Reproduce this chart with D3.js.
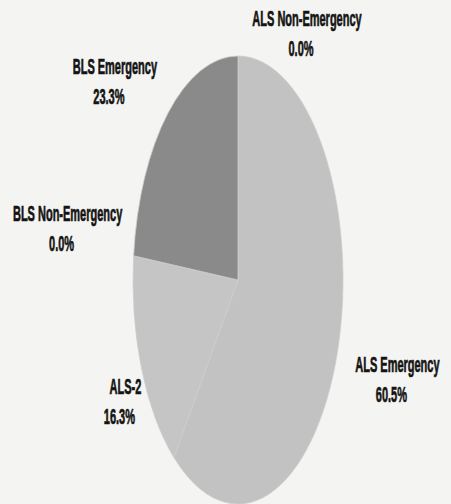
<!DOCTYPE html>
<html>
<head>
<meta charset="utf-8">
<script src="https://cdn.jsdelivr.net/npm/d3@7"></script>
<style>
  html, body { margin: 0; padding: 0; background: #f4f4f2; }
  svg { display: block; }
  .lbl { font-family: "Liberation Sans", Arial, sans-serif; font-weight: bold; font-size: 22px;
         fill: #141414; stroke: #141414; stroke-width: 0.7px; }
</style>
</head>
<body>
<div id="chart"></div>
<script>
// Slice data, clockwise from 12 o'clock
var categories = ["ALS Non-Emergency", "ALS Emergency", "ALS-2", "BLS Non-Emergency", "BLS Emergency"];
var shares = [0.0, 60.5, 16.3, 0.0, 23.3];
var shareLabels = ["0.0%", "60.5%", "16.3%", "0.0%", "23.3%"];

// Style / layout (kept apart from data)
var sliceColors = ["#c2c2c2", "#c2c2c2", "#c5c5c5", "#8a8a8a", "#8a8a8a"];
// label baseline offsets from the slice's point on the rim
var labelNudge = [[69, -30], [60, 20], [-16, 26], [-66, -35], [-53, -39]];

var W = 451, H = 504,
    cx = 238, cy = 280,
    R = 224,            // vertical radius
    squash = 105 / 224; // the scan is compressed sideways

var svg = d3.select("#chart").append("svg")
    .attr("width", W)
    .attr("height", H);

var rows = categories.map(function(c, i) {
  return {name: c, value: shares[i], label: shareLabels[i], i: i};
});

var pie = d3.pie()
    .sort(null)
    .value(function(d) { return d.value; });

var arcs = pie(rows);

var arc = d3.arc().innerRadius(0).outerRadius(R);
var rim = d3.arc().innerRadius(R).outerRadius(R);

var pieG = svg.append("g")
    .attr("transform", "translate(" + cx + "," + cy + ") scale(" + squash + ",1)");

pieG.selectAll("path")
  .data(arcs)
  .enter().append("path")
    .attr("d", arc)
    .attr("fill", function(d) { return sliceColors[d.data.i]; })
    .attr("stroke", "#cdcdcd")
    .attr("stroke-width", 0.8)
    .attr("vector-effect", "non-scaling-stroke");

// Labels
var labels = svg.selectAll("text.lbl")
  .data(arcs)
  .enter().append("text")
    .attr("class", "lbl")
    .attr("text-anchor", "middle")
    .attr("transform", function(d) {
      var p = rim.centroid(d),
          n = labelNudge[d.data.i];
      var x = cx + p[0] * squash + n[0],
          y = cy + p[1] + n[1];
      return "translate(" + x + "," + y + ") scale(0.5,1)";
    });

labels.append("tspan")
    .attr("x", 0)
    .text(function(d) { return d.data.name; });

labels.append("tspan")
    .attr("x", -12)
    .attr("dy", 30)
    .text(function(d) { return d.data.label; });
</script>
</body>
</html>
